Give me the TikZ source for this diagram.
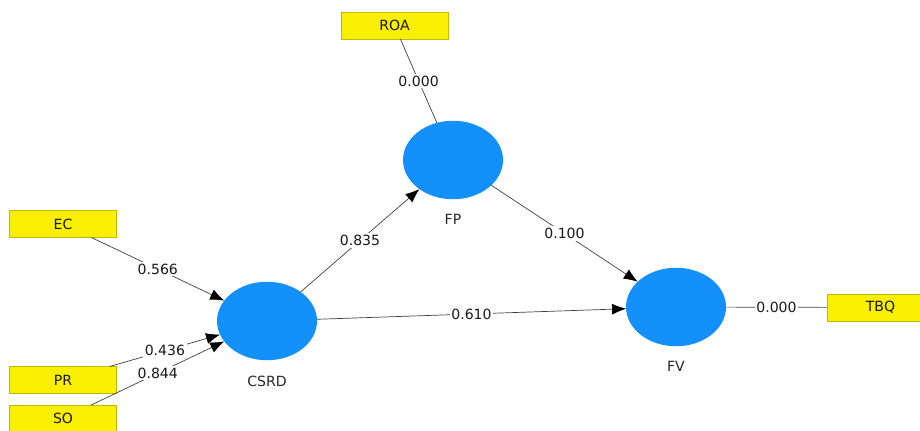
\documentclass[tikz,border=0pt]{standalone}
\usepackage{fontspec}
\setmainfont{DejaVu Sans}
\usetikzlibrary{shapes.geometric,arrows.meta,positioning}

\definecolor{boxyellow}{RGB}{248,240,0}
\definecolor{boxedge}{RGB}{190,186,0}
\definecolor{lvblue}{RGB}{20,144,250}
\definecolor{linegray}{RGB}{64,64,64}

\begin{document}
\begin{tikzpicture}[
        font=\fontsize{8}{9}\selectfont,
        indicator/.style={draw=boxedge, fill=boxyellow, text=black!90, minimum width=2.14cm, minimum height=0.54cm, inner sep=0pt, outer sep=0pt},
        latent/.style={ellipse, fill=lvblue, minimum width=2cm, minimum height=1.57cm, inner sep=0pt, outer sep=0pt},
        lvname/.style={inner sep=0pt, text=black!85},
        coef/.style={fill=white, text=black!90, inner sep=1pt},
        outerlink/.style={linegray},
        sempath/.style={linegray, -{Latex[length=2.8mm, width=2.2mm, black]}}
    ]
        % Fix the frame
        \useasboundingbox (0,0) rectangle (18.4,8.6);
        \clip (0,0) rectangle (18.4,8.6);

        % Draw latent variables
        \node[latent] (csrd) at (5.34,2.18) {};
        \node[latent] (fp) at (9.06,5.40) {};
        \node[latent] (fv) at (13.52,2.46) {};

        % Names under the latent variables
        \node[lvname, below=0.3cm of csrd] (csrdname) {CSRD};
        \node[lvname, below=0.3cm of fp] (fpname) {FP};
        \node[lvname, below=0.3cm of fv] (fvname) {FV};

        % Draw indicators
        \node[indicator] (roa) at (7.89,8.09) {ROA};
        \node[indicator] (ec) at (1.26,4.12) {EC};
        \node[indicator] (pr) at (1.26,1.00) {PR};
        \node[indicator] (so) at (1.26,0.23) {SO};
        \node[indicator] (tbq) at (17.61,2.45) {TBQ};

        % Indicator links
        \draw[outerlink] (roa) -- (fp) node[midway, coef] {0.000};
        \draw[outerlink] (fv) -- (tbq) node[midway, coef] {0.000};

        % Structural paths
        \draw[sempath] (ec) -- (csrd) node[midway, coef] {0.566};
        \draw[sempath] (so) -- (csrd) node[midway, coef] {0.844};
        \draw[sempath] (pr) -- (csrd) node[midway, coef] {0.436};
        \draw[sempath] (csrd) -- (fp) node[midway, coef] {0.835};
        \draw[sempath] (fp) -- (fv) node[midway, coef] {0.100};
        \draw[sempath] (csrd) -- (fv) node[midway, coef] {0.610};
    \end{tikzpicture}
\end{document}
